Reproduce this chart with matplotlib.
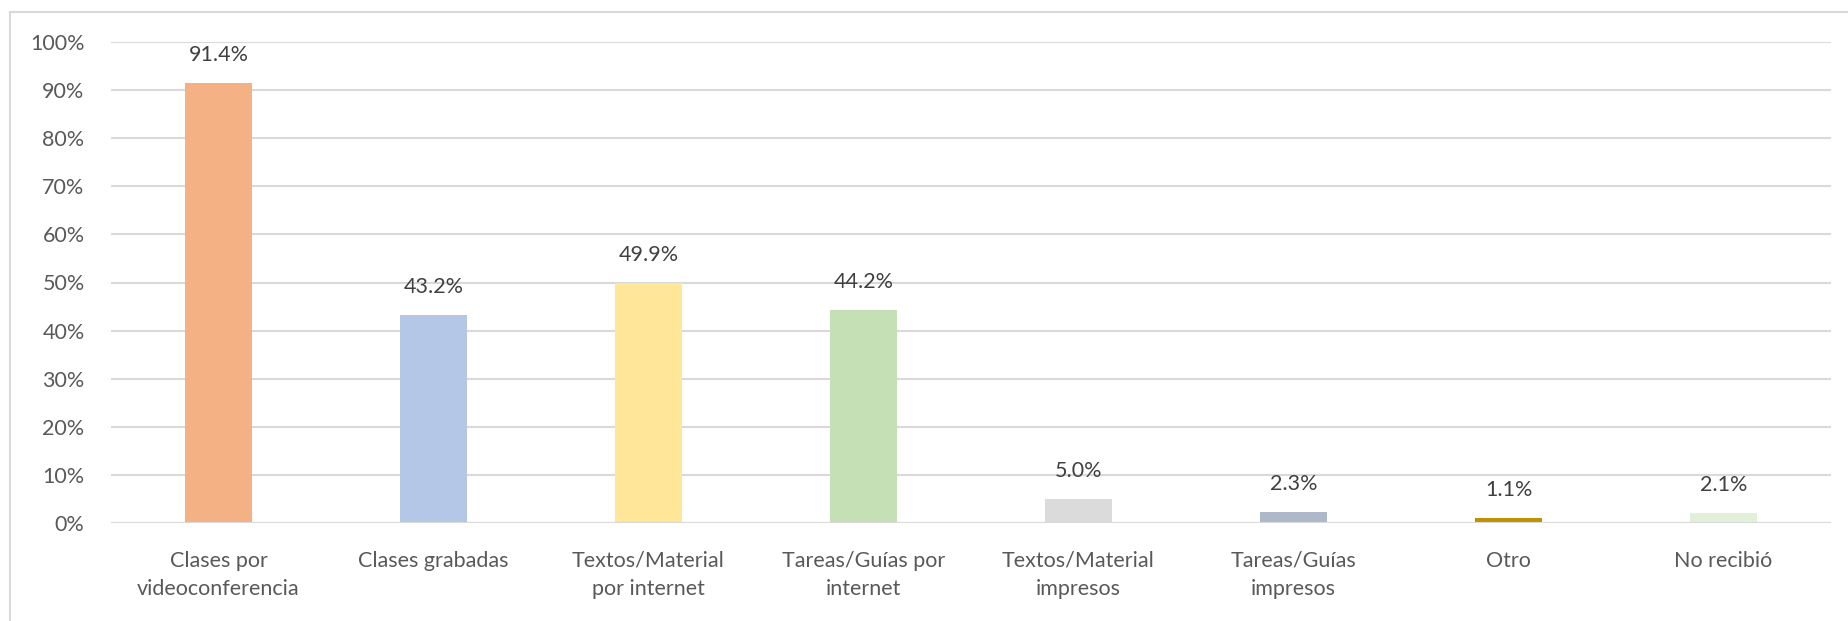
import matplotlib
matplotlib.use("Agg")
import matplotlib.pyplot as plt
from matplotlib.patches import Rectangle
from matplotlib.ticker import FuncFormatter

categories = ["Clases por\nvideoconferencia", "Clases grabadas", "Textos/Material\npor internet",
              "Tareas/Guías por\ninternet", "Textos/Material\nimpresos", "Tareas/Guías\nimpresos",
              "Otro", "No recibió"]
values = [91.4, 43.2, 49.9, 44.2, 5.0, 2.3, 1.1, 2.1]
colors = ["#F4B183", "#B4C7E7", "#FFE699", "#C5E0B4", "#DBDBDB", "#ADB9CA", "#BF9000", "#E2F0D9"]
yticks = [0, 10, 20, 30, 40, 50, 60, 70, 80, 90, 100]

plt.rcParams['font.family'] = ['Lato', 'DejaVu Sans']
W, H = 1848, 621
fig = plt.figure(figsize=(W / 100, H / 100), dpi=100)
fig.patches.append(Rectangle((10 / W, -0.1), 1.2, (H - 12) / H + 0.1, transform=fig.transFigure,
                             fill=False, edgecolor="#D9D9D9", linewidth=1.5))
ax = fig.add_axes([111 / W, (H - 523) / H, (1831 - 111) / W, (523 - 42) / H])

x = list(range(len(categories)))
ax.bar(x, values, width=0.316, color=colors, zorder=2)
for xi, v in zip(x, values):
    ax.annotate(f"{v:.1f}%", (xi, v), xytext=(0, 13), textcoords="offset points",
                ha="center", va="bottom", fontsize=15.5, color="#404040")

ax.set_xlim(-0.5, len(categories) - 0.5)
ax.set_ylim(0, 100)
ax.set_yticks(yticks)
ax.yaxis.set_major_formatter(FuncFormatter(lambda v, p: f"{int(v)}%"))
ax.set_xticks(x)
ax.set_xticklabels(categories, fontsize=15.5, color="#595959", linespacing=1.5)
ax.tick_params(axis="y", length=0, pad=19, labelsize=15.5, labelcolor="#595959")
ax.tick_params(axis="x", length=0, pad=20)
ax.grid(axis="y", color="#D9D9D9", linewidth=1.5, zorder=0)
ax.set_axisbelow(True)
ax.axhline(0, color="#D9D9D9", linewidth=1.5, zorder=3)
for s in ax.spines.values():
    s.set_visible(False)

fig.savefig("out.png", dpi=100)
